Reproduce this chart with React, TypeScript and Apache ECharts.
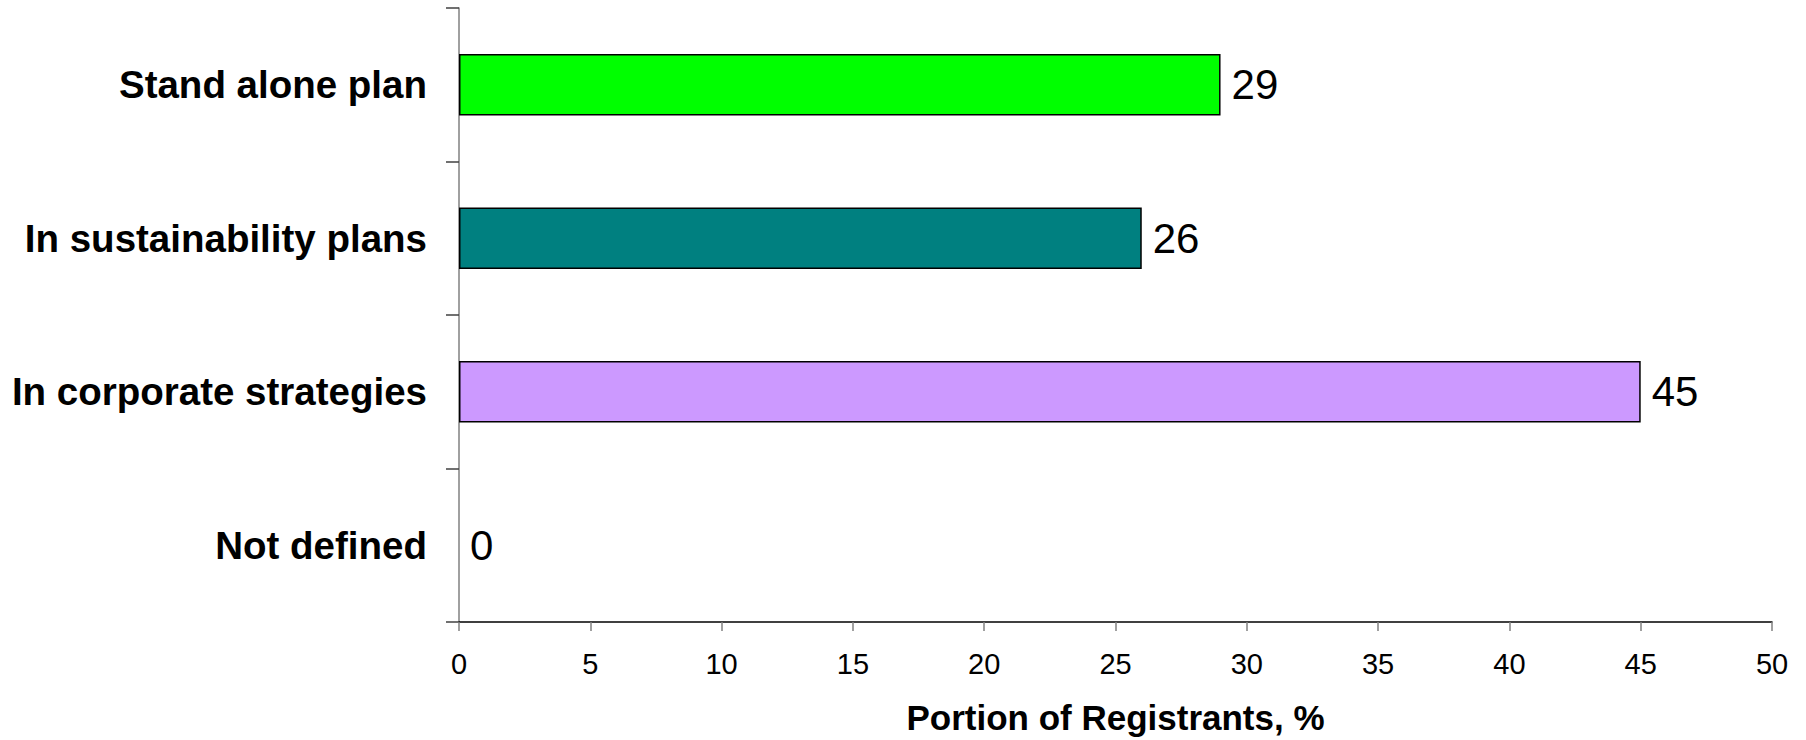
import React, { useEffect, useRef } from "react";
import * as echarts from "echarts";

// Categories listed top to bottom
const categories = [
  "Stand alone plan",
  "In sustainability plans",
  "In corporate strategies",
  "Not defined",
];
const portions = [29, 26, 45, 0];
const barColors = ["#00FF00", "#008080", "#CC99FF", "#FFFFFF"];
const axisTitle = "Portion of Registrants, %";

const FONT = "'Liberation Sans', Arial, sans-serif";

export default function App() {
  const ref = useRef<HTMLDivElement>(null);

  useEffect(() => {
    if (!ref.current) return;
    const chart = echarts.init(ref.current, undefined, { renderer: "svg" });
    chart.setOption({
      animation: false,
      backgroundColor: "#FFFFFF",
      grid: { left: 459, right: 34, top: 8, bottom: 116, containLabel: false },
      xAxis: {
        type: "value",
        min: 0,
        max: 50,
        interval: 5,
        name: axisTitle,
        nameLocation: "middle",
        nameGap: 78,
        nameTextStyle: {
          fontFamily: FONT,
          fontSize: 35,
          fontWeight: "bold",
          color: "#000000",
        },
        axisLine: { show: true, lineStyle: { color: "#000000", width: 1.5 } },
        axisTick: { show: true, length: 9, lineStyle: { color: "#808080", width: 1.5 } },
        axisLabel: {
          fontFamily: FONT,
          fontSize: 29,
          color: "#000000",
          margin: 27,
        },
        splitLine: { show: false },
      },
      yAxis: {
        type: "category",
        data: categories,
        inverse: true,
        axisLine: { show: true, lineStyle: { color: "#808080", width: 1.5 } },
        axisTick: { show: true, length: 13, lineStyle: { color: "#404040", width: 1.5 } },
        axisLabel: {
          fontFamily: FONT,
          fontSize: 38.5,
          fontWeight: "bold",
          color: "#000000",
          margin: 32,
        },
        splitLine: { show: false },
      },
      series: [
        {
          type: "bar",
          barWidth: "40%",
          data: portions.map((v, i) => ({
            value: v,
            itemStyle: {
              color: barColors[i],
              borderWidth: v === 0 ? 0 : 1.5,
            },
          })),
          itemStyle: { borderColor: "#000000", borderWidth: 1.5 },
          label: {
            show: true,
            position: "right",
            distance: 11,
            fontFamily: FONT,
            fontSize: 42,
            color: "#000000",
          },
        },
      ],
    });
    return () => chart.dispose();
  }, []);

  return (
    <div
      ref={ref}
      style={{ position: "absolute", left: 0, top: 0, width: 1806, height: 740 }}
    />
  );
}
